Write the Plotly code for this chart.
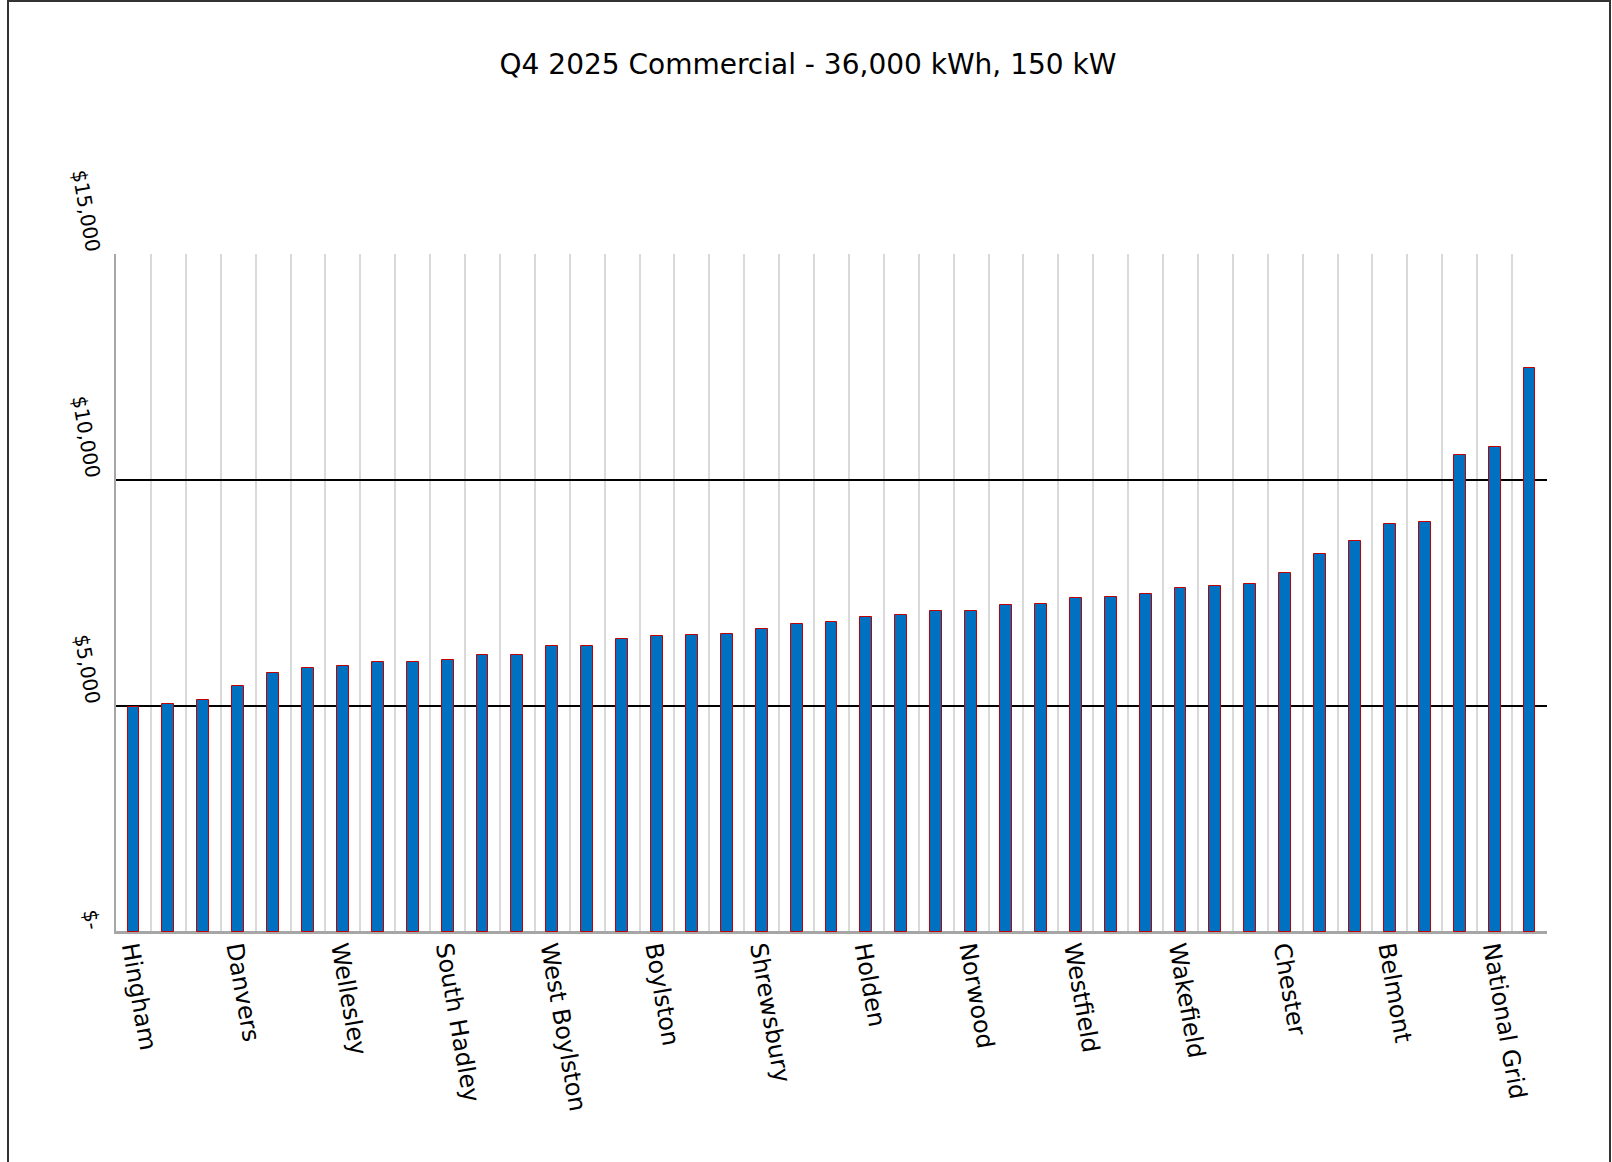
import plotly.graph_objects as go

# ---- data ----
title_text = "Q4 2025 Commercial - 36,000 kWh, 150 kW"
bill_values = [4971, 5037, 5126, 5449, 5730, 5834, 5878, 5967, 5980, 6011,
               6122, 6122, 6320, 6320, 6490, 6541, 6563, 6586, 6711, 6807,
               6865, 6976, 7006, 7095, 7109, 7228, 7257, 7396, 7411, 7471,
               7604, 7655, 7692, 7936, 8370, 8644, 9027, 9071, 10553, 10723,
               12478]
# every third category carries a visible label
labeled_names = ["Hingham", "Danvers", "Wellesley", "South Hadley", "West Boylston",
                 "Boylston", "Shrewsbury", "Holden", "Norwood", "Westfield",
                 "Wakefield", "Chester", "Belmont", "National Grid"]
label_step = 3
y_tick_vals = [0, 5000, 10000, 15000]
y_tick_text = ["$-", "$5,000", "$10,000", "$15,000"]

n = len(bill_values)
x_pos = list(range(n))
label_pos = [i * label_step for i in range(len(labeled_names))]
boundaries = [i - 0.5 for i in range(n + 1)]

W, H = 1612, 1162
L, R, T, B = 116, 65, 254, 230
pw, ph = W - L - R, H - T - B

fig = go.Figure(go.Bar(
    x=x_pos, y=bill_values, width=0.34,
    marker=dict(color="#0070C0", line=dict(color="#C00000", width=1)),
))

fig.update_layout(
    template="none",
    width=W, height=H,
    margin=dict(l=L, r=R, t=T, b=B, autoexpand=False),
    paper_bgcolor="white", plot_bgcolor="white",
    showlegend=False,
    font=dict(family="DejaVu Sans", color="black"),
    title=dict(text=title_text, x=808 / W, xanchor="center", xref="container",
               y=1 - 64 / H, yanchor="middle", yref="container",
               font=dict(size=28, family="DejaVu Sans", color="black")),
    bargap=0,
)

fig.update_xaxes(
    automargin=False,
    range=[-0.5, n - 0.5],
    tickmode="array", tickvals=label_pos, ticktext=labeled_names,
    tickangle=80, tickfont=dict(size=24, color="black"),
    ticklabelstandoff=-8,
    showgrid=False, ticks="",
    showline=True, linecolor="#A6A6A6", linewidth=1.5,
    minor=dict(tickmode="array", tickvals=boundaries, showgrid=True,
               gridcolor="#D9D9D9", gridwidth=1.5, ticks=""),
    zeroline=False,
)
fig.update_yaxes(
    automargin=False,
    range=[0, 15000],
    tickmode="array", tickvals=y_tick_vals, ticktext=y_tick_text,
    tickangle=80, tickfont=dict(size=20, color="black"),
    ticklabelstandoff=14, ticklabelshift=0,
    showgrid=True, gridcolor="black", gridwidth=1.5,
    zeroline=True, zerolinecolor="#A6A6A6", zerolinewidth=1.5,
    showline=True, linecolor="#A6A6A6", linewidth=1.5,
    ticks="",
)

# outer chart border
fig.add_shape(type="rect", xref="paper", yref="paper",
              x0=(8 - L) / pw, x1=(1610 - L) / pw,
              y0=(H - B - (H + 10)) / ph, y1=(H - B - 1) / ph,
              line=dict(color="#333333", width=2), fillcolor="rgba(0,0,0,0)",
              layer="below")

fig.write_html("out.html", config={"displayModeBar": False},
               post_script="document.body.style.margin='0';")
